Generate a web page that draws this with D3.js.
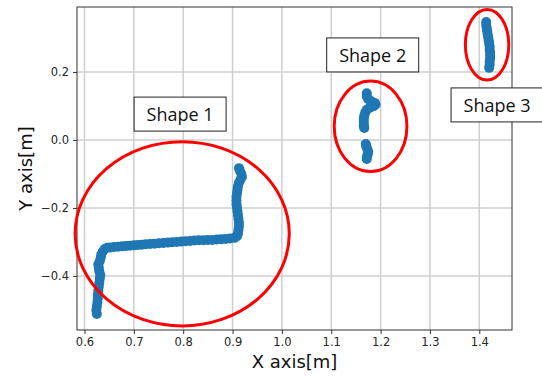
<!DOCTYPE html>
<html>
<head>
<meta charset="utf-8">
<script src="https://cdn.jsdelivr.net/npm/d3@7"></script>
<style>
  body { margin: 0; background: #fff; }
  svg { display: block; }
</style>
</head>
<body>
<div id="chart"></div>
<script>
// trajectory points (metres)
var shape1X = [0.625,0.624,0.625,0.626,0.627,0.627,0.628,0.629,0.630,0.631,0.632,0.630,0.629,0.628,0.631,0.633,0.634,0.637,0.641,0.646,
  0.652,0.660,0.668,0.676,0.684,0.692,0.700,0.708,0.716,0.724,0.733,0.742,0.751,0.760,0.769,0.778,0.787,0.796,0.805,0.814,0.823,0.832,0.841,0.850,0.859,0.868,0.877,0.886,0.895,0.904,0.909,
  0.911,0.912,0.913,0.913,0.912,0.911,0.910,0.909,0.908,0.908,0.908,0.909,0.910,0.911,0.913,0.916,0.919,0.918,0.915,0.913];
var shape1Y = [-0.512,-0.500,-0.490,-0.478,-0.466,-0.455,-0.443,-0.432,-0.420,-0.408,-0.397,-0.386,-0.376,-0.366,-0.356,-0.346,-0.337,-0.328,-0.321,-0.317,
  -0.316,-0.315,-0.314,-0.313,-0.312,-0.311,-0.310,-0.309,-0.308,-0.307,-0.306,-0.305,-0.304,-0.303,-0.302,-0.301,-0.300,-0.299,-0.298,-0.297,-0.296,-0.295,-0.295,-0.294,-0.294,-0.293,-0.292,-0.291,-0.290,-0.288,-0.283,
  -0.275,-0.265,-0.254,-0.243,-0.232,-0.221,-0.210,-0.199,-0.189,-0.178,-0.167,-0.156,-0.146,-0.136,-0.126,-0.117,-0.109,-0.100,-0.091,-0.083];
var shape2X = [1.172,1.172,1.175,1.181,1.188,1.190,1.186,1.178,1.172,1.169,1.167,1.166,1.166,1.166,1.166,1.167,
  1.170,1.171,1.173,1.175,1.174,1.172,1.172];
var shape2Y = [0.137,0.128,0.120,0.114,0.109,0.104,0.099,0.095,0.089,0.081,0.072,0.063,0.054,0.045,0.040,0.035,
  -0.012,-0.019,-0.027,-0.035,-0.042,-0.050,-0.056];
var shape3X = [1.414,1.414,1.415,1.416,1.417,1.418,1.419,1.420,1.421,1.421,1.422,1.422,1.422,1.421,1.421,1.420];
var shape3Y = [0.347,0.338,0.329,0.320,0.311,0.302,0.293,0.284,0.275,0.266,0.257,0.248,0.239,0.230,0.221,0.212];

var xTicks = [0.6,0.7,0.8,0.9,1.0,1.1,1.2,1.3,1.4];
var yTicks = [-0.4,-0.2,0.0,0.2];

// circled regions: centre, radii (data units)
var ellipseCx = [0.798, 1.1797, 1.4158];
var ellipseCy = [-0.276, 0.040, 0.280];
var ellipseRx = [0.217, 0.0737, 0.044];
var ellipseRy = [0.271, 0.133, 0.104];

var labelNames = ["Shape 1", "Shape 2", "Shape 3"];
var labelX = [0.7937, 1.184, 1.436];
var labelY = [0.076, 0.25, 0.103];

var W = 542, H = 376;
var margin = {top: 7, right: 30, bottom: 46, left: 77};
var w = W - margin.left - margin.right, h = H - margin.top - margin.bottom;

var x = d3.scaleLinear().domain([0.5848, 1.4663]).range([0, w]);
var y = d3.scaleLinear().domain([-0.559, 0.391]).range([h, 0]);

var svg = d3.select('#chart').append('svg').attr('width', W).attr('height', H)
  .style('font-family', 'DejaVu Sans, sans-serif');
var g = svg.append('g').attr('transform', 'translate(' + margin.left + ',' + margin.top + ')');

// grid
g.append('g').selectAll('line').data(xTicks).join('line')
  .attr('x1', function(d){return x(d);}).attr('x2', function(d){return x(d);})
  .attr('y1', 0).attr('y2', h).attr('stroke', '#cfcfcf').attr('stroke-width', 1.5);
g.append('g').selectAll('line').data(yTicks).join('line')
  .attr('y1', function(d){return y(d);}).attr('y2', function(d){return y(d);})
  .attr('x1', 0).attr('x2', w).attr('stroke', '#cfcfcf').attr('stroke-width', 1.5);

// axes
var fmt = function(d){ return d3.format('.1f')(d).replace('-', '\u2212'); };
var xAxis = g.append('g').attr('transform', 'translate(0,' + h + ')')
  .call(d3.axisBottom(x).tickValues(xTicks).tickFormat(fmt).tickSizeOuter(0).tickSize(4).tickPadding(4));
var yAxis = g.append('g')
  .call(d3.axisLeft(y).tickValues(yTicks).tickFormat(fmt).tickSizeOuter(0).tickSize(4).tickPadding(4));
[xAxis, yAxis].forEach(function(a){
  a.select('.domain').remove();
  a.selectAll('line').attr('stroke', '#333');
  a.selectAll('text').attr('fill', '#262626').style('font-size', '11.5px').style('font-family', 'DejaVu Sans, sans-serif');
});

// frame
g.append('rect').attr('width', w).attr('height', h).attr('fill', 'none')
  .attr('stroke', '#333').attr('stroke-width', 1);

// points
var pts = [];
shape1X.forEach(function(v, i){ pts.push([v, shape1Y[i]]); });
shape2X.forEach(function(v, i){ pts.push([v, shape2Y[i]]); });
shape3X.forEach(function(v, i){ pts.push([v, shape3Y[i]]); });
g.append('g').selectAll('circle').data(pts).join('circle')
  .attr('cx', function(d){return x(d[0]);}).attr('cy', function(d){return y(d[1]);})
  .attr('r', 5).attr('fill', '#1f77b4');

// red ellipses
g.append('g').selectAll('ellipse').data(ellipseCx).join('ellipse')
  .attr('cx', function(d){return x(d);})
  .attr('cy', function(d, i){return y(ellipseCy[i]);})
  .attr('rx', function(d, i){return x(d + ellipseRx[i]) - x(d);})
  .attr('ry', function(d, i){return y(0) - y(ellipseRy[i]);})
  .attr('fill', 'none').attr('stroke', '#ff0000').attr('stroke-width', 3);

// label boxes
labelNames.forEach(function(name, i){
  var lg = svg.append('g');
  var cx = margin.left + x(labelX[i]), cy = margin.top + y(labelY[i]);
  var rect = lg.append('rect');
  var t = lg.append('text').attr('x', cx).attr('y', cy).attr('text-anchor', 'middle')
    .attr('dominant-baseline', 'central').style('font-family', 'Open Sans, Noto Sans, sans-serif')
    .style('font-size', '18px').attr('fill', '#111').text(name);
  rect.attr('x', cx - 46).attr('y', cy - 17).attr('width', 92).attr('height', 34)
    .attr('fill', '#fff').attr('stroke', '#222').attr('stroke-width', 1);
});

// axis titles
svg.append('text').attr('x', margin.left + w / 2).attr('y', 368).attr('text-anchor', 'middle')
  .style('font-size', '18px').attr('fill', '#111').text('X axis[m]');
svg.append('text').attr('transform', 'translate(32,' + (margin.top + h / 2) + ') rotate(-90)')
  .attr('text-anchor', 'middle').style('font-size', '18px').attr('fill', '#111').text('Y axis[m]');
</script>
</body>
</html>
